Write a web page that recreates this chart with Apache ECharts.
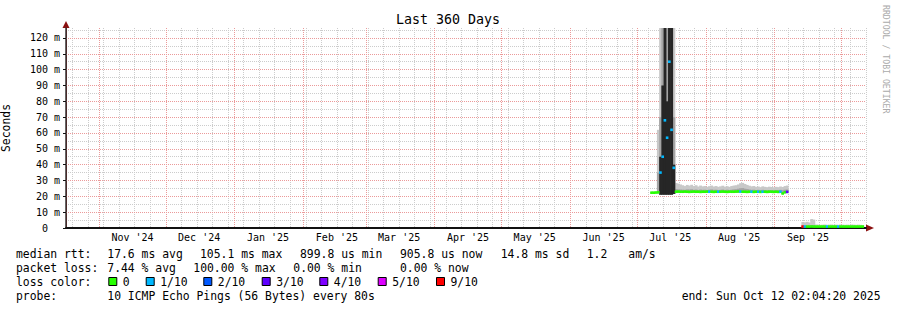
<!DOCTYPE html>
<html>
<head>
<meta charset="utf-8">
<script src="https://cdn.jsdelivr.net/npm/echarts@6/dist/echarts.min.js"></script>
<style>
html,body{margin:0;padding:0;background:#fff;}
#chart{width:897px;height:310px;}
</style>
</head>
<body>
<div id="chart"></div>
<script>
// ---------------- DATA ----------------
const rangeStart = '2024-10-17T02:04:20';
const rangeEnd   = '2025-10-12T02:04:20';
const monthLabels = ["Nov '24","Dec '24","Jan '25","Feb '25","Mar '25","Apr '25","May '25","Jun '25","Jul '25","Aug '25","Sep '25"];
const yTicks  = [0,10,20,30,40,50,60,70,80,90,100,110,120];
const yMinor  = [5,15,25,35,45,55,65,75,85,95,105,115,125];
const yMax = 126.3;

// loss legend
const lossLevels = [0,1,2,3,4,5,9];
const lossLabels = ['0','1/10','2/10','3/10','4/10','5/10','9/10'];
const lossColors = ['#26ff00','#00b8ff','#0059ff','#5e00ff','#7e00ff','#dd00ff','#ff0000'];

// statistics text
const rttStats  = ['17.6 ms avg','105.1 ms max','899.8 us min','905.8 us now','14.8 ms sd','1.2','am/s'];
const lossStats = ['7.44 % avg','100.00 % max','0.00 % min','0.00 % now'];
const probeText = '10 ICMP Echo Pings (56 Bytes) every 80s';
const endText   = 'end: Sun Oct 12 02:04:20 2025';

// segment 1: daily values from 2025-07-07 (ms)
const seg1Start = '2025-07-07';
const seg1Med = [22.3,22.3,22.4,22.5,
  35,45,68,57,105,62,38,
  22.9,23.0,22.9,22.9,23.0,22.9,22.8,22.9,23.0,22.9,
  22.9,22.8,22.9,22.9,23.0,22.9,22.9,22.8,22.9,22.9,
  22.9,23.0,22.9,22.8,22.9,22.9,22.9,23.0,23.1,23.0,
  22.9,22.9,22.8,22.9,22.9,22.8,22.9,22.9,22.8,22.9,
  22.9,22.8,22.9,22.9,22.8,22.9,22.8,22.9,21.8,22.6,
  22.8];
const seg1Loss = [0,0,0,0,
  1,1,1,1,1,1,1,
  0,0,0,0,0,0,0,0,0,0,
  0,0,0,0,0,1,0,0,0,1,
  0,0,0,0,0,0,0,0,0,1,
  0,0,0,0,1,0,0,1,0,1,
  0,0,0,0,0,0,0,1,0,0,
  3];
const seg1Lo = [21.9,21.9,22.0,22.0,
  21,21,21,21,21,21,21.5,
  22.3,22.3,22.3,22.3,22.3,22.3,22.3,22.3,22.3,22.3,
  22.3,22.3,22.3,22.3,22.3,22.3,22.3,22.3,22.3,22.3,
  22.3,22.3,22.3,22.3,22.3,22.3,22.3,22.3,22.3,22.3,
  22.3,22.3,22.3,22.3,22.3,22.3,22.3,22.3,22.3,22.3,
  22.3,22.3,22.3,22.3,22.3,22.3,22.3,22.3,21.5,22.0,
  22.3];
const seg1Hi = [22.8,22.8,22.9,62,
  140,140,140,140,140,140,140,
  28.4,28,27.5,27,26.5,27.2,26.8,27.3,26.5,27,
  26.2,26.8,26.3,26.5,26,26.4,26.8,26.2,26.5,26,
  26.3,26.7,26.1,26.4,26,26.5,26.8,27,27.5,28.3,
  28.5,27.8,27.2,26.7,26.3,26.5,26,26.2,25.8,26.3,
  26,25.8,26.1,25.9,25.7,26,25.8,26.2,25.9,26.5,
  26.8];
const seg1Mid = [22.5,22.5,22.6,35,
  70,140,140,140,140,140,70,
  24.6,24.4,24.3,24.2,24.1,24.4,24.3,24.5,24.1,24.3,
  24.0,24.3,24.1,24.2,24.0,24.2,24.4,24.1,24.2,24.0,
  24.1,24.3,24.0,24.2,24.0,24.2,24.4,24.5,24.8,25.1,
  25.2,24.8,24.6,24.3,24.1,24.2,24.0,24.1,23.9,24.1,
  24.0,23.9,24.0,23.9,23.8,24.0,23.9,24.1,23.9,24.2,
  24.3];
const seg1In = [null,null,null,null,
  45,90,140,80,140,140,40,
  null,null,null,null,null,null,null,null,null,null,
  null,null,null,null,null,null,null,null,null,null,
  null,null,null,null,null,null,null,null,null,null,
  null,null,null,null,null,null,null,null,null,null,
  null,null,null,null,null,null,null,null,null,null,
  null];

// segment 2: daily values from 2025-09-13 (ms)
const seg2Start = '2025-09-13';
const seg2Med = [0.9,0.9,0.9,0.9,0.95,0.9,0.9,0.9,0.9,0.9,
  0.9,0.9,0.9,0.9,0.9,0.9,0.9,0.9,0.9,0.9,
  0.9,0.9,0.9,0.9,0.9,0.9,0.9,0.9];
const seg2Loss = [9,1,0,0,0,0,0,0,0,0,
  0,1,0,0,0,0,1,0,0,0,
  0,0,0,0,0,0,0,0];
const seg2Lo = [0.8,0.8,0.8,0.8,0.8,0.8,0.8,0.8,0.8,0.8,
  0.8,0.8,0.8,0.8,0.8,0.8,0.8,0.8,0.8,0.8,
  0.8,0.8,0.8,0.8,0.8,0.8,0.8,0.8];
const seg2Hi = [3.8,3.6,3.9,3.5,5.7,5.3,2.2,2.1,2.0,2.1,
  2.2,2.0,2.1,2.2,2.0,2.1,2.0,2.2,2.1,2.0,
  2.1,2.0,2.2,2.1,2.0,2.1,2.0,1.9];
const seg2Mid = [1.5,1.5,1.6,1.5,1.8,1.7,1.3,1.3,1.2,1.3,
  1.3,1.2,1.3,1.3,1.2,1.3,1.2,1.3,1.3,1.2,
  1.3,1.2,1.3,1.3,1.2,1.3,1.2,1.2];
const seg2In = [null,null,null,null,null,null,null,null,null,null,
  null,null,null,null,null,null,null,null,null,null,
  null,null,null,null,null,null,null,null];

// ---------------- BUILD ----------------
const DAY = 86400000;
function utc(s){
  const m = s.match(/(\d+)-(\d+)-(\d+)(?:T(\d+):(\d+):(\d+))?/);
  return Date.UTC(+m[1], +m[2]-1, +m[3], +(m[4]||0), +(m[5]||0), +(m[6]||0));
}
const tStart = utc(rangeStart), tEnd = utc(rangeEnd);

// grid positions (time ticks)
const monthStarts = [];
for (let k = 0; k < 12; k++) monthStarts.push(Date.UTC(2024, 10 + k, 1));
const labelTimes = monthStarts.slice(0, monthLabels.length).map(t => t + 15 * DAY);
const sundays = [];
for (let t = Date.UTC(2024, 9, 20); t < tEnd; t += 7 * DAY) sundays.push(t);

const segments = [
  {start: seg1Start, med: seg1Med, loss: seg1Loss, lo: seg1Lo, hi: seg1Hi, mid: seg1Mid, inn: seg1In},
  {start: seg2Start, med: seg2Med, loss: seg2Loss, lo: seg2Lo, hi: seg2Hi, mid: seg2Mid, inn: seg2In}
];
function bandData(key){
  const out = [];
  segments.forEach(s => {
    const t0 = utc(s.start);
    s[key].forEach((v, i) => { if (v != null) out.push([t0 + i*DAY, t0 + (i+1)*DAY, s.lo[i], v]); });
  });
  return out;
}
function medData(){
  const out = [];
  segments.forEach(s => {
    const t0 = utc(s.start);
    s.med.forEach((v, i) => out.push([t0 + i*DAY, t0 + (i+1)*DAY, v, s.loss[i]]));
  });
  return out;
}
function lossColor(l){
  let c = lossColors[0];
  lossLevels.forEach((lv, k) => { if (l >= lv) c = lossColors[k]; });
  return c;
}
function bandRender(color){
  return function(params, api){
    const p0 = api.coord([api.value(0), api.value(2)]);
    const p1 = api.coord([api.value(1), api.value(3)]);
    const cs = params.coordSys;
    const r = echarts.graphic.clipRectByRect(
      {x: p0[0], y: p1[1], width: p1[0] - p0[0] + 0.6, height: p0[1] - p1[1]},
      {x: cs.x, y: cs.y, width: cs.width, height: cs.height});
    if (!r) return;
    return {type: 'rect', shape: r, style: {fill: color}};
  };
}
function medRender(params, api){
  const p0 = api.coord([api.value(0), api.value(2)]);
  const p1 = api.coord([api.value(1), api.value(2)]);
  return {type: 'rect', shape: {x: p0[0], y: p0[1] - 1.3, width: p1[0] - p0[0] + 0.4, height: 2.6},
          style: {fill: lossColor(api.value(3))}};
}

const FONT = '"DejaVu Sans Mono", monospace';
const RED = '#eb9a9a', GRAY = '#cccccc', AXIS = '#111111', ARROW = '#8b1010';

function T(x, y, s, size, opts){
  opts = opts || {};
  return {type: 'text', x: x, y: y, rotation: opts.rotation || 0, silent: true, z: 100,
    style: {text: s, fill: opts.fill || '#000', font: size + 'px ' + FONT,
      textAlign: opts.align || 'left', align: opts.align || 'left',
      textVerticalAlign: 'middle', verticalAlign: 'middle'}};
}
const LF = 11.4;
const graphics = [];
graphics.push(T(448, 19, 'Last 360 Days', 13.3, {align: 'center'}));
graphics.push(T(886, 5, 'RRDTOOL / TOBI OETIKER', 8.2, {rotation: -Math.PI/2, fill: '#aaaaaa'}));
// row 1
graphics.push(T(16, 254, 'median rtt:', LF));
const rttX = [107.3, 200, 300, 400, 500.7, 586.7, 628.3];
rttStats.forEach((s, k) => graphics.push(T(rttX[k], 254, s, LF)));
// row 2
graphics.push(T(16, 268, 'packet loss:', LF));
const lossX = [107.3, 193.3, 293.3, 400];
lossStats.forEach((s, k) => graphics.push(T(lossX[k], 268, s, LF)));
// row 3
graphics.push(T(16, 282, 'loss color:', LF));
const boxX = [108.3, 145.7, 203.3, 261.7, 319.3, 377.7, 436];
lossLabels.forEach((s, k) => {
  graphics.push({type: 'rect', silent: true, z: 100,
    shape: {x: boxX[k] + 0.5, y: 277.5, width: 8, height: 8},
    style: {fill: lossColors[k], stroke: '#000', lineWidth: 1}});
  graphics.push(T(boxX[k] + 14.5, 282, s, LF));
});
// row 4
graphics.push(T(16, 296, 'probe:', LF));
graphics.push(T(107.3, 296, probeText, LF));
graphics.push(T(880.5, 296, endText, LF, {align: 'right'}));

const chart = echarts.init(document.getElementById('chart'), null, {renderer: 'svg', width: 897, height: 310});
chart.setOption({
  animation: false,
  backgroundColor: '#ffffff',
  grid: {left: 66, right: 31, top: 28, bottom: 82, containLabel: false, outerBoundsMode: 'none'},
  xAxis: [
    {type: 'value', min: tStart, max: tEnd, position: 'bottom', z: 3,
     axisLine: {show: true, onZero: false, lineStyle: {color: AXIS, width: 2}},
     axisTick: {show: false, customValues: monthStarts},
     axisLabel: {show: true, customValues: labelTimes, margin: 4, fontFamily: FONT, fontSize: 10, color: '#000',
       formatter: v => { const k = labelTimes.indexOf(v); return k >= 0 ? monthLabels[k] : ''; }},
     splitLine: {show: true, lineStyle: {color: RED, width: 1, type: [1, 1]}}},
    {type: 'value', min: tStart, max: tEnd, position: 'bottom', z: 2,
     axisLine: {show: true, onZero: false, lineStyle: {color: ARROW, width: 1},
       symbol: ['none', 'triangle'], symbolSize: [7, 8], symbolOffset: [0, 4]},
     axisTick: {show: false, customValues: sundays},
     axisLabel: {show: false},
     splitLine: {show: true, lineStyle: {color: GRAY, width: 1, type: [1, 1]}}}
  ],
  yAxis: [
    {type: 'value', min: 0, max: yMax, interval: 10, position: 'left', z: 3,
     name: 'Seconds', nameLocation: 'middle', nameGap: 55, nameRotate: 90,
     nameTextStyle: {fontFamily: FONT, fontSize: 11.4, color: '#000'},
     axisLine: {show: true, onZero: false, lineStyle: {color: '#333', width: 1.5}},
     axisTick: {show: true, length: 3, customValues: yTicks, lineStyle: {color: AXIS}},
     axisLabel: {show: true, customValues: yTicks, margin: 6, fontFamily: FONT, fontSize: 10, color: '#000',
       formatter: v => v === 0 ? '0\u00a0\u00a0' : v + ' m'},
     splitLine: {show: true, lineStyle: {color: RED, width: 1, type: [1, 1]}}},
    {type: 'value', min: 0, max: yMax, position: 'left', z: 2,
     axisLine: {show: true, onZero: false, lineStyle: {color: ARROW, width: 1},
       symbol: ['none', 'triangle'], symbolSize: [7, 7], symbolOffset: [0, 3.5]},
     axisTick: {show: false, customValues: yMinor},
     axisLabel: {show: false},
     splitLine: {show: true, lineStyle: {color: GRAY, width: 1, type: [1, 1]}}}
  ],
  series: [
    {type: 'custom', name: 'smoke outer', xAxisIndex: 0, yAxisIndex: 0, z: 5, silent: true,
     renderItem: bandRender('#c8c8c8'), encode: {x: [0, 1], y: [2, 3]}, data: bandData('hi')},
    {type: 'custom', name: 'smoke mid', xAxisIndex: 0, yAxisIndex: 0, z: 6, silent: true,
     renderItem: bandRender('#a4a4a4'), encode: {x: [0, 1], y: [2, 3]}, data: bandData('mid')},
    {type: 'custom', name: 'smoke inner', xAxisIndex: 0, yAxisIndex: 0, z: 7, silent: true,
     renderItem: bandRender('#262626'), encode: {x: [0, 1], y: [2, 3]}, data: bandData('inn')},
    {type: 'custom', name: 'median rtt', xAxisIndex: 0, yAxisIndex: 0, z: 8, silent: true,
     renderItem: medRender, encode: {x: [0, 1], y: 2}, data: medData()}
  ],
  graphic: {elements: graphics}
});
</script>
</body>
</html>
